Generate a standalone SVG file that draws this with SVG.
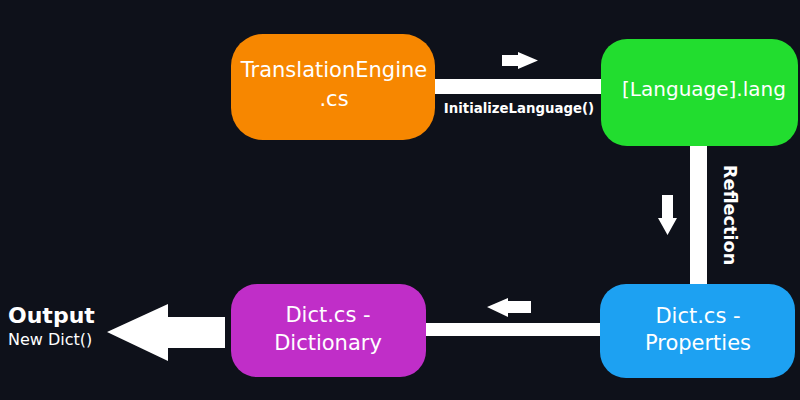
<svg xmlns="http://www.w3.org/2000/svg" width="800" height="400" viewBox="0 0 800 400">
<style>
.lbl{font-family:"DejaVu Sans",Verdana,sans-serif;font-size:21px;fill:#fff;text-anchor:middle}
.bar{fill:#fff}
</style>
<rect width="800" height="400" fill="#0e111a"/>
<g id="connectors">
<rect class="bar" x="430" y="79" width="175" height="15"/>
<polygon class="bar" points="502,55 518,55 518,52 538,60.5 518,69 518,66 502,66"/>
<text x="519" y="113" font-family="DejaVu Sans,sans-serif" font-weight="bold" font-size="13.3" fill="#fff" text-anchor="middle">InitializeLanguage()</text>
<rect class="bar" x="690" y="140" width="17" height="150"/>
<polygon class="bar" points="662,195 673,195 673,218 677,218 667.5,235 658,218 662,218"/>
<text transform="translate(724,215) rotate(90)" font-family="DejaVu Sans,sans-serif" font-weight="bold" font-size="17.7" fill="#fff" text-anchor="middle">Reflection</text>
<rect class="bar" x="420" y="323" width="185" height="13"/>
<polygon class="bar" points="531,301 531,313 508,313 508,317 487,307 508,298 508,301"/>
<polygon class="bar" points="225,317 225,348 168,348 168,361 107,332 168,304 168,317"/>
</g>
<g id="translation-engine">
<rect x="231" y="34" width="204" height="106" rx="32" fill="#f78700"/>
<text class="lbl" x="334" y="77">TranslationEngine</text>
<text class="lbl" x="334" y="106">.cs</text>
</g>
<g id="language-lang">
<rect x="601" y="39" width="197" height="107" rx="26" fill="#22dd2f"/>
<text class="lbl" x="704" y="96" style="font-size:20px">[Language].lang</text>
</g>
<g id="dict-properties">
<rect x="600" y="284" width="195" height="94" rx="26" fill="#1da1f2"/>
<text class="lbl" x="698" y="323">Dict.cs -</text>
<text class="lbl" x="698" y="350">Properties</text>
</g>
<g id="dict-dictionary">
<rect x="231" y="284" width="195" height="93" rx="26" fill="#c02ec8"/>
<text class="lbl" x="328" y="322">Dict.cs -</text>
<text class="lbl" x="328" y="350">Dictionary</text>
</g>
<g id="output">
<text x="8" y="323" font-family="DejaVu Sans,sans-serif" font-weight="bold" font-size="22" fill="#fff">Output</text>
<text x="8" y="345" font-family="DejaVu Sans,sans-serif" font-size="16" fill="#fff">New Dict()</text>
</g>
</svg>
